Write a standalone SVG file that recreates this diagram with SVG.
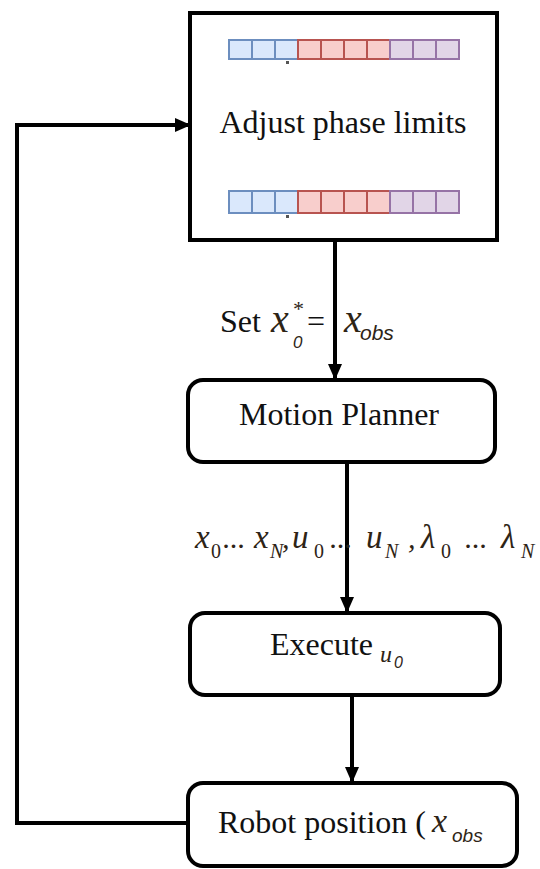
<svg xmlns="http://www.w3.org/2000/svg" width="540" height="869" viewBox="0 0 540 869">
<defs>
<marker id="ah" markerUnits="userSpaceOnUse" markerWidth="16" markerHeight="16" viewBox="0 0 16 16" refX="15" refY="8" orient="auto">
<path d="M0,1 L16,8 L0,15 Z" fill="#000"/>
</marker>
</defs>
<style>
.box{fill:#fff;stroke:#000;stroke-width:4}
.lbl{font-size:32px;fill:#111}
.m{font-style:italic;fill:#2e2416}
.ms{font-family:'Liberation Sans',Arial,sans-serif;font-style:italic;fill:#2e2416}
.b{fill:#dae8fc;stroke:#6c8ebf;stroke-width:2}
.r{fill:#f8cecc;stroke:#b85450;stroke-width:2}
.p{fill:#e1d5e7;stroke:#9673a6;stroke-width:2}
.edge{fill:none;stroke:#000;stroke-width:4;marker-end:url(#ah)}
</style>
<g id="connectors">
<line class="edge" x1="335" y1="240" x2="335" y2="379"/>
<line class="edge" x1="347" y1="462" x2="347" y2="612"/>
<line class="edge" x1="352" y1="695" x2="352" y2="782"/>
<polyline class="edge" points="188,823 17,823 17,125 190,125"/>
</g>
<g font-family="'Liberation Serif', 'Times New Roman', 'DejaVu Serif', serif">
<g id="adjust">
<rect class="box" x="190" y="13" width="307" height="227"/>
<g id="bar-top">
<rect class="b" x="229" y="40" width="23" height="19"/>
<rect class="b" x="252" y="40" width="23" height="19"/>
<rect class="b" x="275" y="40" width="23" height="19"/>
<rect class="r" x="298" y="40" width="23" height="19"/>
<rect class="r" x="321" y="40" width="23" height="19"/>
<rect class="r" x="344" y="40" width="23" height="19"/>
<rect class="r" x="367" y="40" width="23" height="19"/>
<rect class="p" x="390" y="40" width="23" height="19"/>
<rect class="p" x="413" y="40" width="23" height="19"/>
<rect class="p" x="436" y="40" width="23" height="19"/>
<rect x="286" y="61" width="3" height="3" fill="#555"/>
</g>
<g id="bar-bottom">
<rect class="b" x="229" y="191" width="23" height="22"/>
<rect class="b" x="252" y="191" width="23" height="22"/>
<rect class="b" x="275" y="191" width="23" height="22"/>
<rect class="r" x="298" y="191" width="23" height="22"/>
<rect class="r" x="321" y="191" width="23" height="22"/>
<rect class="r" x="344" y="191" width="23" height="22"/>
<rect class="r" x="367" y="191" width="23" height="22"/>
<rect class="p" x="390" y="191" width="23" height="22"/>
<rect class="p" x="413" y="191" width="23" height="22"/>
<rect class="p" x="436" y="191" width="23" height="22"/>
<rect x="286" y="215" width="3" height="3" fill="#555"/>
</g>
<text class="lbl" x="343" y="133" text-anchor="middle">Adjust phase limits</text>
</g>
<g id="set-label">
<text class="lbl" x="220" y="332">Set</text>
<text class="m" x="271" y="332" font-size="40">x</text>
<text class="m" x="292" y="316" font-size="22" font-style="normal">*</text>
<text class="ms" x="293" y="348" font-size="17" font-style="normal">0</text>
<text class="lbl" x="307" y="332" font-size="34">=</text>
<text class="m" x="344" y="332" font-size="40">x</text>
<text class="ms" x="360" y="340" font-size="21">obs</text>
</g>
<g id="motion-planner">
<rect class="box" x="188" y="380" width="307" height="82" rx="15"/>
<text class="lbl" x="339" y="425" text-anchor="middle">Motion Planner</text>
</g>
<g id="traj-label">
<text class="m" font-size="33" y="548"><tspan x="195">x</tspan><tspan x="254">x</tspan><tspan x="292">u</tspan><tspan x="366">u</tspan><tspan x="421">λ</tspan><tspan x="501">λ</tspan></text>
<text class="m" font-size="30" y="548" font-style="normal"><tspan x="223">...</tspan><tspan x="282">,</tspan><tspan x="330">...</tspan><tspan x="408">,</tspan><tspan x="465">...</tspan></text>
<text class="m" font-size="20" y="558"><tspan x="211" font-style="normal">0</tspan><tspan x="270">N</tspan><tspan x="314" font-style="normal">0</tspan><tspan x="385">N</tspan><tspan x="441" font-style="normal">0</tspan><tspan x="521">N</tspan></text>
</g>
<g id="execute">
<rect class="box" x="190" y="613" width="310" height="82" rx="15"/>
<text class="lbl" x="270" y="655">Execute</text>
<text class="m" x="380" y="662" font-size="24">u</text>
<text class="ms" x="394" y="668" font-size="16" font-style="normal">0</text>
</g>
<g id="robot">
<rect class="box" x="188" y="783" width="329" height="83" rx="15"/>
<text class="lbl" x="218" y="833">Robot position (</text>
<text class="m" x="432" y="832" font-size="34">x</text>
<text class="ms" x="452" y="842" font-size="19">obs</text>
</g>
</g>
</svg>
